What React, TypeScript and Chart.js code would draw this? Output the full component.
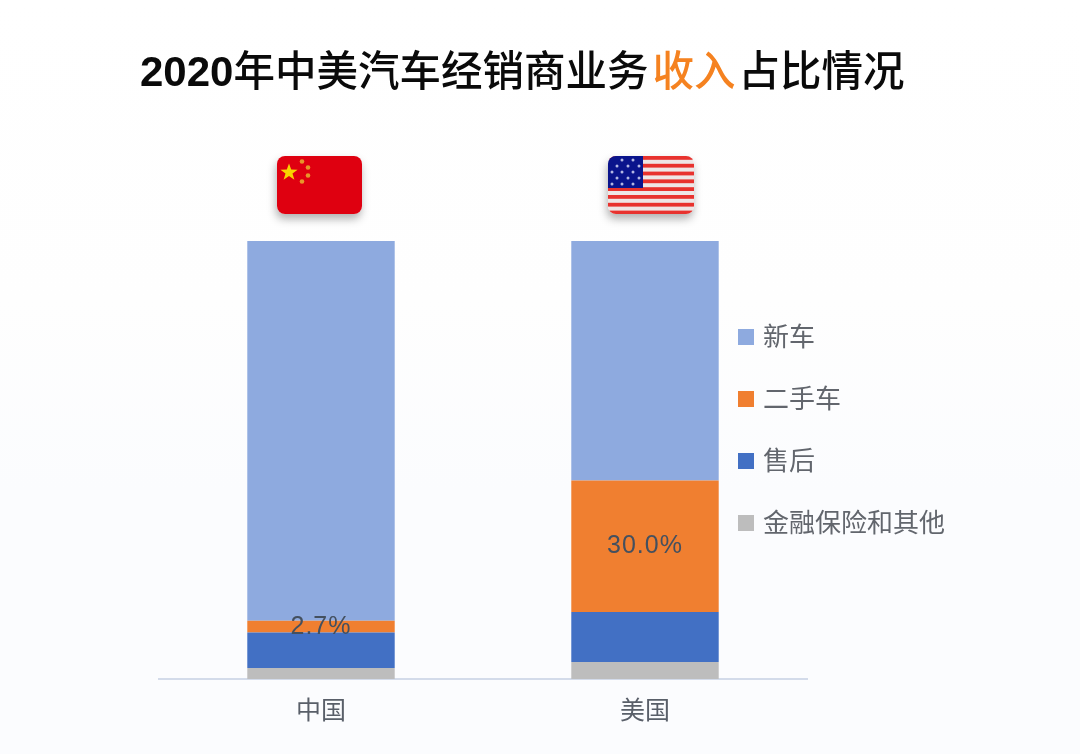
import { useEffect, useRef } from "react"
import { Chart, registerables } from "chart.js"

Chart.register(...registerables)

const countries = ["中国", "美国"]

// share of revenue, %
const newCar = [86.7, 54.7]
const usedCar = [2.7, 30.0]
const afterSales = [8.1, 11.4]
const financeOther = [2.5, 3.9]

const usedCarLabels = ["2.7%", "30.0%"]

const legendItems = [
  { label: "新车", color: "#8eaadf" },
  { label: "二手车", color: "#f07f30" },
  { label: "售后", color: "#4270c4" },
  { label: "金融保险和其他", color: "#bdbdbd" },
]

const CJK = '"Noto Sans CJK SC", "Noto Sans", sans-serif'

// percentage labels on the used car segment
const usedCarLabelPlugin = {
  id: "usedCarLabel",
  afterDatasetsDraw(chart: Chart) {
    const meta = chart.getDatasetMeta(2)
    const ctx = chart.ctx
    ctx.save()
    ctx.font = '25px "Liberation Sans", sans-serif'
    ctx.fillStyle = "#44505f"
    ctx.textAlign = "center"
    ctx.textBaseline = "middle"
    ;(ctx as any).letterSpacing = "1px"
    meta.data.forEach((bar: any, i: number) => {
      ctx.fillText(usedCarLabels[i], bar.x, (bar.y + bar.base) / 2)
    })
    ctx.restore()
  },
}

function ChinaFlag() {
  return (
    <svg width="85" height="58" viewBox="0 0 85 58" style={{ ...flagStyle, left: 277 }}>
      <rect width="85" height="58" fill="#df0010" />
      <polygon
        points="12,7.5 14.2,13.6 20.6,13.7 15.5,17.6 17.4,23.8 12,20.1 6.6,23.8 8.5,17.6 3.4,13.7 9.8,13.6"
        fill="#f8d500"
      />
      <circle cx="25" cy="5.5" r="2.3" fill="#e8962a" />
      <circle cx="31" cy="11.5" r="2.3" fill="#e8962a" />
      <circle cx="31" cy="19.5" r="2.3" fill="#e8962a" />
      <circle cx="25" cy="25.5" r="2.3" fill="#e8962a" />
    </svg>
  )
}

const usStripes = [0, 1, 2, 3, 4, 5, 6, 7]
const usStars = [
  [14, 4], [25, 4],
  [9, 10], [20, 10], [31, 10],
  [4, 16], [14, 16], [25, 16],
  [9, 22], [20, 22], [31, 22],
  [4, 28], [14, 28], [25, 28],
]

function UsFlag() {
  return (
    <svg width="86" height="58" viewBox="0 0 86 58" style={{ ...flagStyle, left: 608 }}>
      <rect width="86" height="58" fill="#eee6e6" />
      {usStripes.map((s) => (
        <rect key={s} y={s * 7.8} width="86" height="3.8" fill="#e8322e" />
      ))}
      <rect width="35" height="32" fill="#0a148c" />
      {usStars.map(([x, y]) => (
        <circle key={`${x}-${y}`} cx={x} cy={y} r="1.5" fill="#b4b8e4" />
      ))}
    </svg>
  )
}

const flagStyle: React.CSSProperties = {
  position: "absolute",
  top: 156,
  borderRadius: 8,
  boxShadow: "-1px 5px 8px rgba(60,60,60,0.4)",
}

export default function App() {
  const chartRef = useRef<HTMLCanvasElement>(null)

  useEffect(() => {
    if (!chartRef.current) return
    const chart = new Chart(chartRef.current, {
      type: "bar",
      data: {
        labels: countries,
        datasets: [
          { label: "金融保险和其他", data: financeOther, backgroundColor: "#bdbdbd" },
          { label: "售后", data: afterSales, backgroundColor: "#4270c4" },
          { label: "二手车", data: usedCar, backgroundColor: "#f07f30" },
          { label: "新车", data: newCar, backgroundColor: "#8eaadf" },
        ],
      },
      options: {
        responsive: false,
        animation: false,
        layout: { padding: { left: 159, right: 273, top: 241, bottom: 15 } },
        datasets: { bar: { categoryPercentage: 1, barPercentage: 0.455 } },
        plugins: { legend: { display: false }, title: { display: false }, tooltip: { enabled: false } },
        scales: {
          x: {
            stacked: true,
            grid: { display: false, drawTicks: false },
            border: { color: "#d3dbea", width: 2 },
            ticks: { color: "#595f69", padding: 15, font: { family: CJK, size: 25 } },
          },
          y: { stacked: true, display: false, min: 0, max: 100 },
        },
      },
      plugins: [usedCarLabelPlugin],
    })
    return () => chart.destroy()
  }, [])

  return (
    <div
      style={{
        position: "absolute",
        left: 0,
        top: 0,
        width: 1080,
        height: 754,
        overflow: "hidden",
        fontFamily: CJK,
        background: "linear-gradient(#ffffff 0%, #fefefe 40%, #fbfcfe 65%, #fbfcfe 100%)",
      }}
    >
      <canvas ref={chartRef} width={1080} height={754} style={{ position: "absolute", left: 0, top: 0 }} />
      <div
        style={{
          position: "absolute",
          left: 140,
          top: 38,
          fontSize: 41.5,
          lineHeight: "60px",
          fontWeight: 500,
          color: "#0a0a0a",
          whiteSpace: "pre",
        }}
      >
        <span style={{ fontFamily: '"Liberation Sans", sans-serif', fontSize: 42, fontWeight: 700 }}>2020</span>
        年中美汽车经销商业务<span style={{ color: "#f58220", marginLeft: 4 }}>收入</span>
        <span style={{ marginLeft: 3 }}>占比情况</span>
      </div>
      <ChinaFlag />
      <UsFlag />
      {legendItems.map((item, i) => (
        <div
          key={item.label}
          style={{
            position: "absolute",
            left: 738,
            top: 319 + i * 62,
            height: 36,
            display: "flex",
            alignItems: "center",
            fontSize: 26,
            color: "#62666d",
            whiteSpace: "nowrap",
          }}
        >
          <span style={{ width: 16, height: 16, background: item.color, marginRight: 9 }} />
          <span style={{ position: "relative", top: -3 }}>{item.label}</span>
        </div>
      ))}
    </div>
  )
}
